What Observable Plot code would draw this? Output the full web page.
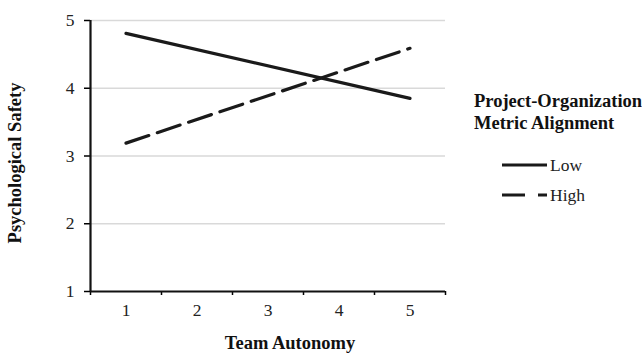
<!DOCTYPE html>
<html>
<head>
<meta charset="utf-8">
<script src="https://cdn.jsdelivr.net/npm/d3@7"></script>
<script src="https://cdn.jsdelivr.net/npm/@observablehq/plot@0.6"></script>
<style>
  html, body { margin: 0; padding: 0; background: #fff; }
  #chart { width: 642px; height: 354px; }
</style>
</head>
<body>
<div id="chart"></div>
<script>
const autonomy = [1, 5];
const lowValues = [4.81, 3.85];
const highValues = [3.19, 4.59];
const seriesNames = ["Low", "High"];
const yTicks = [1, 2, 3, 4, 5];
const xTicks = [1, 2, 3, 4, 5];
const xBoundaries = [0.5, 1.5, 2.5, 3.5, 4.5, 5.5];
const gridValues = [2, 3, 4, 5];
const xTitle = "Team Autonomy";
const yTitle = "Psychological Safety";
const legendTitle = ["Project-Organization", "Metric Alignment"];

const lowData = autonomy.map((x, i) => ({x, y: lowValues[i], series: seriesNames[0]}));
const highData = autonomy.map((x, i) => ({x, y: highValues[i], series: seriesNames[1]}));
const dash = "24,9";
const legendDash = "23,13";
const font = "'Liberation Serif', 'Times New Roman', serif";

const plot = Plot.plot({
  width: 642,
  height: 354,
  marginLeft: 90,
  marginRight: 197,
  marginTop: 20,
  marginBottom: 63,
  style: {fontFamily: font, fontSize: "17.5px", color: "#000", background: "#fff"},
  x: {domain: [0.5, 5.5]},
  y: {domain: [1, 5]},
  marks: [
    Plot.gridY(gridValues, {stroke: "#d9d9d9", strokeOpacity: 1, strokeWidth: 1.5}),
    Plot.axisY({ticks: yTicks, tickFormat: "d", tickSize: 6, tickPadding: 10, label: null, fontSize: 17.5, strokeWidth: 1.5, fill: "#222"}),
    Plot.axisX({ticks: xTicks, tickFormat: "d", tickSize: 0, tickPadding: 12, label: null, fontSize: 17.5, fill: "#222"}),
    Plot.axisX({ticks: xBoundaries, tickSize: 4, tickFormat: () => "", label: null, strokeWidth: 1.5}),
    Plot.ruleX([0.5], {stroke: "#111", strokeWidth: 2.2}),
    Plot.ruleY([1], {stroke: "#111", strokeWidth: 2.2}),
    Plot.line(lowData, {x: "x", y: "y", stroke: "#1a1a1a", strokeWidth: 3.2}),
    Plot.line(highData, {x: "x", y: "y", stroke: "#1a1a1a", strokeWidth: 3.2, strokeDasharray: dash})
  ]
});

document.getElementById("chart").appendChild(plot);

const svg = d3.select(plot);

svg.append("text")
  .attr("transform", "translate(21,163) rotate(-90)")
  .attr("text-anchor", "middle")
  .attr("font-family", font).attr("font-size", 18.5).attr("font-weight", "bold")
  .attr("fill", "#111")
  .text(yTitle);

svg.append("text")
  .attr("x", 290).attr("y", 349)
  .attr("text-anchor", "middle")
  .attr("font-family", font).attr("font-size", 18.5).attr("font-weight", "bold")
  .attr("fill", "#111")
  .text(xTitle);

const lg = svg.append("g").attr("font-family", font).attr("fill", "#111").attr("text-anchor", "start");
legendTitle.forEach((t, i) => {
  lg.append("text").attr("x", 474).attr("y", 107 + i * 22)
    .attr("font-size", 18.5).attr("font-weight", "bold").text(t);
});
seriesNames.forEach((name, i) => {
  const y = 165 + i * 30;
  lg.append("line").attr("x1", 502).attr("x2", 547).attr("y1", y).attr("y2", y)
    .attr("stroke", "#1a1a1a").attr("stroke-width", 3.2)
    .attr("stroke-dasharray", i === 1 ? legendDash : null);
  lg.append("text").attr("x", 550).attr("y", y + 6).attr("font-size", 17.5).attr("fill", "#222").text(name);
});
</script>
</body>
</html>
